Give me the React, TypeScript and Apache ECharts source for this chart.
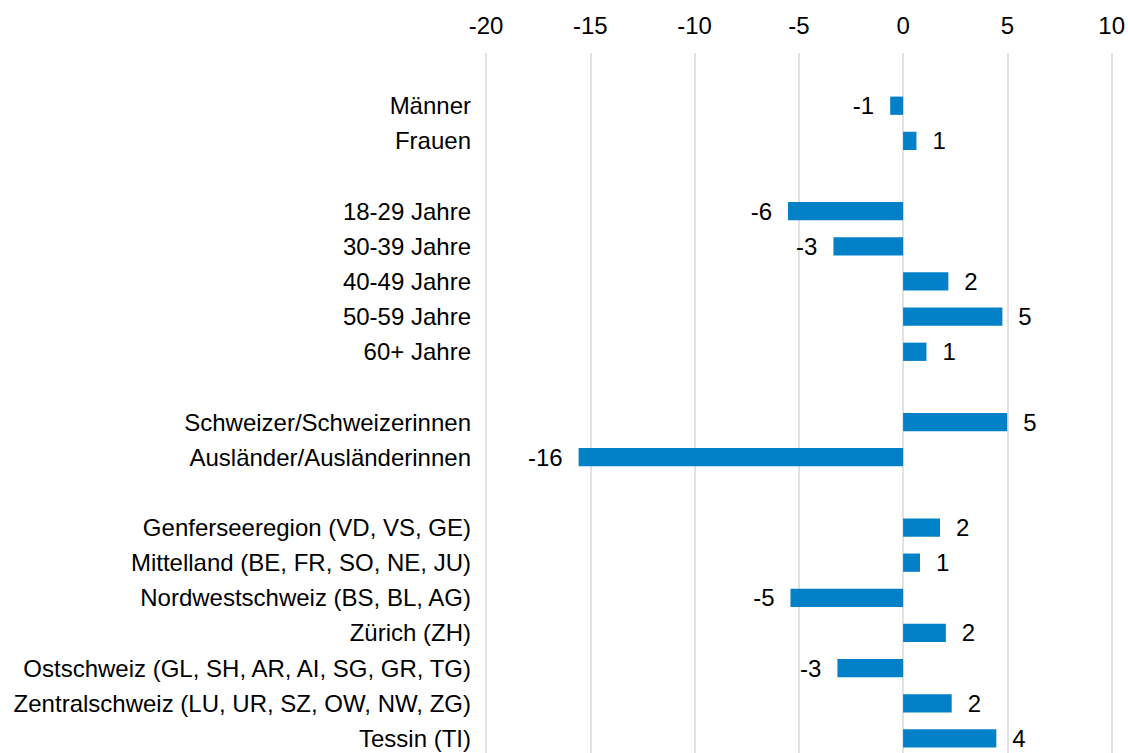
import React, { useEffect, useRef } from "react";
import * as echarts from "echarts";

const categories = [
  "",
  "Männer",
  "Frauen",
  " ",
  "18-29 Jahre",
  "30-39 Jahre",
  "40-49 Jahre",
  "50-59 Jahre",
  "60+ Jahre",
  "  ",
  "Schweizer/Schweizerinnen",
  "Ausländer/Ausländerinnen",
  "   ",
  "Genferseeregion (VD, VS, GE)",
  "Mittelland (BE, FR, SO, NE, JU)",
  "Nordwestschweiz (BS, BL, AG)",
  "Zürich (ZH)",
  "Ostschweiz (GL, SH, AR, AI, SG, GR, TG)",
  "Zentralschweiz (LU, UR, SZ, OW, NW, ZG)",
  "Tessin (TI)",
];

const values: (number | null)[] = [
  null,
  -0.62,
  0.64,
  null,
  -5.52,
  -3.34,
  2.17,
  4.76,
  1.12,
  null,
  4.99,
  -15.56,
  null,
  1.77,
  0.81,
  -5.4,
  2.05,
  -3.15,
  2.33,
  4.47,
];

const xTicks = { min: -20, max: 10, interval: 5 };

const FONT = '"Liberation Sans", Arial, Helvetica, sans-serif';

export default function App() {
  const ref = useRef<HTMLDivElement>(null);
  useEffect(() => {
    if (!ref.current) return;
    const chart = echarts.init(ref.current, null, { renderer: "svg" });
    chart.setOption({
      animation: false,
      textStyle: { fontFamily: FONT },
      grid: { left: 486, right: 16, top: 53, bottom: 24, containLabel: false },
      xAxis: {
        type: "value",
        position: "top",
        min: xTicks.min,
        max: xTicks.max,
        interval: xTicks.interval,
        axisLine: { show: false },
        axisTick: { show: false },
        axisLabel: { fontSize: 24, color: "#000", fontFamily: FONT, margin: 16 },
        splitLine: { show: true, lineStyle: { color: "#d9d9d9", width: 1.5 } },
      },
      yAxis: {
        type: "category",
        inverse: true,
        data: categories,
        axisLine: { show: false },
        axisTick: { show: false },
        axisLabel: {
          fontSize: 24,
          lineHeight: 18,
          color: "#000",
          fontFamily: FONT,
          margin: 15,
          interval: 0,
        },
        splitLine: { show: false },
      },
      series: [
        {
          type: "bar",
          barWidth: "52%",
          itemStyle: { color: "#0281c9" },
          data: values.map((v) =>
            v === null
              ? null
              : {
                  value: v,
                  label: {
                    show: true,
                    position: v < 0 ? "left" : "right",
                    distance: 16,
                    fontSize: 24,
                    lineHeight: 18,
                    color: "#000",
                    fontFamily: FONT,
                    formatter: (p: any) => String(Math.round(p.value)),
                  },
                }
          ),
        },
      ],
    });
    return () => chart.dispose();
  }, []);
  return (
    <div
      style={{
        position: "fixed",
        top: 0,
        left: 0,
        width: 1128,
        height: 753,
        overflow: "hidden",
        background: "#fff",
      }}
    >
      <div ref={ref} style={{ width: 1128, height: 780 }} />
    </div>
  );
}
